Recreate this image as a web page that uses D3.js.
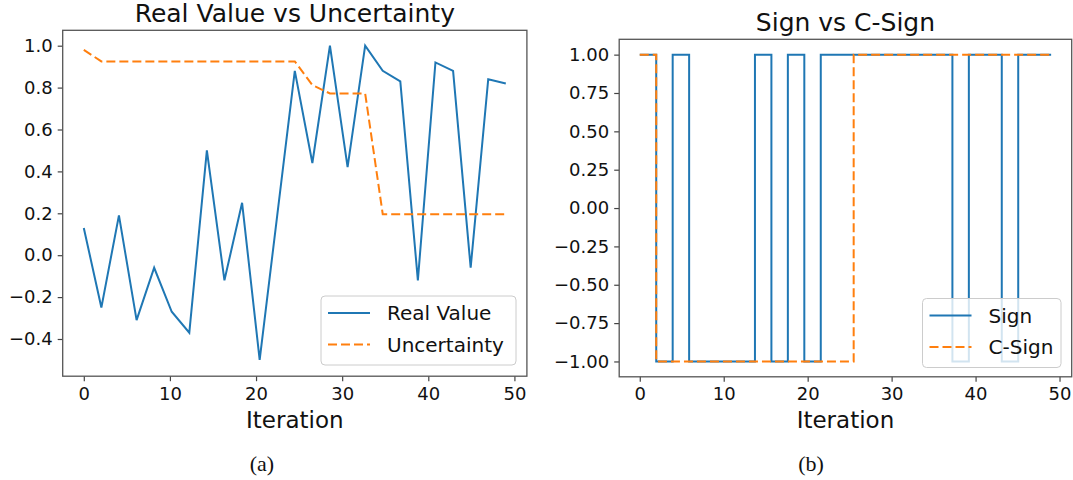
<!DOCTYPE html>
<html>
<head>
<meta charset="utf-8">
<script src="https://cdn.jsdelivr.net/npm/d3@7"></script>
<style>
  body { margin: 0; background: #fff; }
  svg { display: block; font-family: "DejaVu Sans", sans-serif; }
  .tick text { fill: #111; }
  .caption { font-family: "Liberation Serif", "Times New Roman", serif; }
</style>
</head>
<body>
<svg id="chart" width="1073" height="480"></svg>
<script>
// Panel (a): iteration vs real value / uncertainty
var iteration = [0, 2.04, 4.08, 6.13, 8.17, 10.21, 12.25, 14.29, 16.33, 18.38, 20.42, 22.46,
                 24.5, 26.54, 28.58, 30.63, 32.67, 34.71, 36.75, 38.79, 40.83, 42.88, 44.92, 46.96, 49];
var realValue = [0.13, -0.25, 0.19, -0.31, -0.06, -0.27, -0.37, 0.50, -0.12, 0.25, -0.50, 0.19,
                 0.88, 0.44, 1.00, 0.42, 1.00, 0.88, 0.83, -0.12, 0.92, 0.88, -0.06, 0.84, 0.82];
var uncertainty = [0.98, 0.925, 0.925, 0.925, 0.925, 0.925, 0.925, 0.925, 0.925, 0.925, 0.925, 0.925,
                   0.925, 0.812, 0.772, 0.772, 0.772, 0.196, 0.196, 0.196, 0.196, 0.196, 0.196, 0.196, 0.196];

// Panel (b): sign vs c-sign, drawn as steps
var signIteration = [0, 1.96, 3.92, 5.88, 7.84, 9.8, 11.76, 13.72, 15.68, 17.64, 19.6, 21.56, 23.52,
                     25.48, 27.44, 29.4, 31.36, 33.32, 35.28, 37.24, 39.2, 41.16, 43.12, 45.08, 47.04, 49];
var sign  = [1, -1, 1, -1, -1, -1, -1, 1, -1, 1, -1, 1, 1, 1, 1, 1, 1, 1, 1, -1, 1, 1, -1, 1, 1, 1];
var cSign = [1, -1, -1, -1, -1, -1, -1, -1, -1, -1, -1, -1, -1, 1, 1, 1, 1, 1, 1, 1, 1, 1, 1, 1, 1, 1];

var xTicks = [0, 10, 20, 30, 40, 50];
var yTicksA = [-0.4, -0.2, 0.0, 0.2, 0.4, 0.6, 0.8, 1.0];
var yTicksB = [-1.0, -0.75, -0.5, -0.25, 0, 0.25, 0.5, 0.75, 1.0];

var blue = "#1f77b4", orange = "#ff7f0e";
var svg = d3.select("#chart");

function drawPanel(p) {
  var x = d3.scaleLinear().domain([-2.45, 51.45]).range([p.left, p.right]),
      y = d3.scaleLinear().domain(p.yDomain).range([p.bottom, p.top]);

  var g = svg.append("g");

  // series
  p.series.forEach(function(s) {
    var pts = s.x.map(function(v, i) { return [v, s.y[i]]; });
    g.append("path")
        .attr("d", d3.line().x(function(d) { return x(d[0]); })
                           .y(function(d) { return y(d[1]); })
                           .curve(p.curve)(pts))
        .attr("fill", "none")
        .attr("stroke", s.color)
        .attr("stroke-width", 2)
        .attr("stroke-dasharray", s.dash || null);
  });

  // axes
  var xAxis = g.append("g")
      .attr("transform", "translate(0," + p.bottom + ")")
      .call(d3.axisBottom(x).tickValues(xTicks).tickFormat(d3.format("d"))
              .tickSize(5).tickPadding(5).tickSizeOuter(0));
  var yAxis = g.append("g")
      .attr("transform", "translate(" + p.left + ",0)")
      .call(d3.axisLeft(y).tickValues(p.yTicks).tickFormat(d3.format(p.yFormat))
              .tickSize(5).tickPadding(5).tickSizeOuter(0));
  [xAxis, yAxis].forEach(function(a) {
    a.select(".domain").remove();
    a.selectAll(".tick line").attr("stroke", "#444").attr("stroke-width", 1.2);
    a.selectAll(".tick text").style("font-size", "18px").style("font-family", "DejaVu Sans");
  });
  xAxis.selectAll(".tick text").attr("dy", "0.75em");

  // frame
  g.append("rect")
      .attr("x", p.left).attr("y", p.top)
      .attr("width", p.right - p.left).attr("height", p.bottom - p.top)
      .attr("fill", "none").attr("stroke", "#555").attr("stroke-width", 1.3);

  // title, axis label, caption
  var cx = (p.left + p.right) / 2;
  g.append("text").attr("x", cx).attr("y", p.top - 8)
      .attr("text-anchor", "middle").style("font-size", "25px").attr("fill", "#111")
      .text(p.title);
  g.append("text").attr("x", cx).attr("y", 428)
      .attr("text-anchor", "middle").style("font-size", "23px").attr("fill", "#111")
      .text("Iteration");
  g.append("text").attr("class", "caption").attr("x", p.captionX).attr("y", 471)
      .attr("text-anchor", "middle").style("font-size", "22px").attr("fill", "#111")
      .text(p.caption);

  // legend
  var lg = g.append("g").attr("transform", "translate(" + p.legend[0] + "," + p.legend[1] + ")");
  lg.append("rect")
      .attr("width", p.legend[2]).attr("height", 69).attr("rx", 4)
      .attr("fill", "#fff").attr("fill-opacity", 0.8)
      .attr("stroke", "#ccc").attr("stroke-width", 1);
  p.series.forEach(function(s, i) {
    var ly = 17 + i * 31.5;
    lg.append("line").attr("x1", 7).attr("x2", 49).attr("y1", ly).attr("y2", ly)
        .attr("stroke", s.color).attr("stroke-width", 2)
        .attr("stroke-dasharray", s.dash || null);
    lg.append("text").attr("x", 66).attr("y", ly).attr("dy", "0.35em")
        .style("font-size", "20px").attr("fill", "#111").text(s.name);
  });
}

drawPanel({
  left: 62.7, right: 526.9, top: 30.3, bottom: 376.2,
  yDomain: [-0.5776, 1.0735], yTicks: yTicksA, yFormat: ".1f",
  curve: d3.curveLinear,
  title: "Real Value vs Uncertainty", caption: "(a)", captionX: 262,
  legend: [321, 296, 195],
  series: [
    {name: "Real Value", x: iteration, y: realValue, color: blue},
    {name: "Uncertainty", x: iteration, y: uncertainty, color: orange, dash: "9,4"}
  ]
});

drawPanel({
  left: 619.2, right: 1071.7, top: 39.3, bottom: 376.8,
  yDomain: [-1.1, 1.1], yTicks: yTicksB, yFormat: ".2f",
  curve: d3.curveStepAfter,
  title: "Sign vs C-Sign", caption: "(b)", captionX: 811,
  legend: [922.5, 298.5, 138.5],
  series: [
    {name: "Sign", x: signIteration, y: sign, color: blue},
    {name: "C-Sign", x: signIteration, y: cSign, color: orange, dash: "9,4"}
  ]
});
</script>
</body>
</html>
